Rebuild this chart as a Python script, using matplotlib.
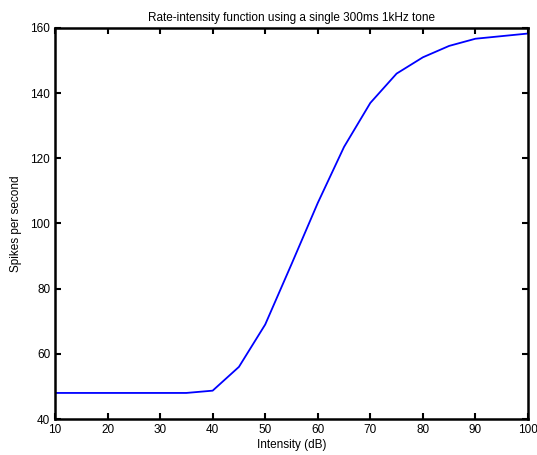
import matplotlib
matplotlib.use("Agg")
import matplotlib.pyplot as plt

intensity_db = [10, 15, 20, 25, 30, 35, 40, 45, 50, 55, 60, 65, 70, 75, 80, 85, 90, 95, 100]
spikes_per_sec = [48, 48, 48, 48, 48, 48, 48.7, 56, 69, 87.5, 106.3, 123.5, 137, 146, 151, 154.5, 156.7, 157.5, 158.3]
xticks = [10, 20, 30, 40, 50, 60, 70, 80, 90, 100]
yticks = [40, 60, 80, 100, 120, 140, 160]

plt.rcParams['font.family'] = ['Liberation Sans', 'DejaVu Sans']

fig = plt.figure(figsize=(5.37, 4.55), dpi=100)
ax = fig.add_axes([0.1024, 0.0791, 0.8808, 0.8594])
ax.plot(intensity_db, spikes_per_sec, color='#0000ff', linewidth=1.3)
ax.set_xlim(10, 100)
ax.set_ylim(40, 160)
ax.set_xticks(xticks)
ax.set_yticks(yticks)
ax.tick_params(direction='in', top=True, right=True, length=4, width=1.5, labelsize=8.5, pad=3.5)
for s in ax.spines.values():
    s.set_linewidth(1.8)
ax.set_title('Rate-intensity function using a single 300ms 1kHz tone', fontsize=8.5, pad=5)
ax.set_xlabel('Intensity (dB)', fontsize=8.5, labelpad=2)
ax.set_ylabel('Spikes per second', fontsize=8.5, labelpad=6)
fig.savefig('out.png', dpi=100)
